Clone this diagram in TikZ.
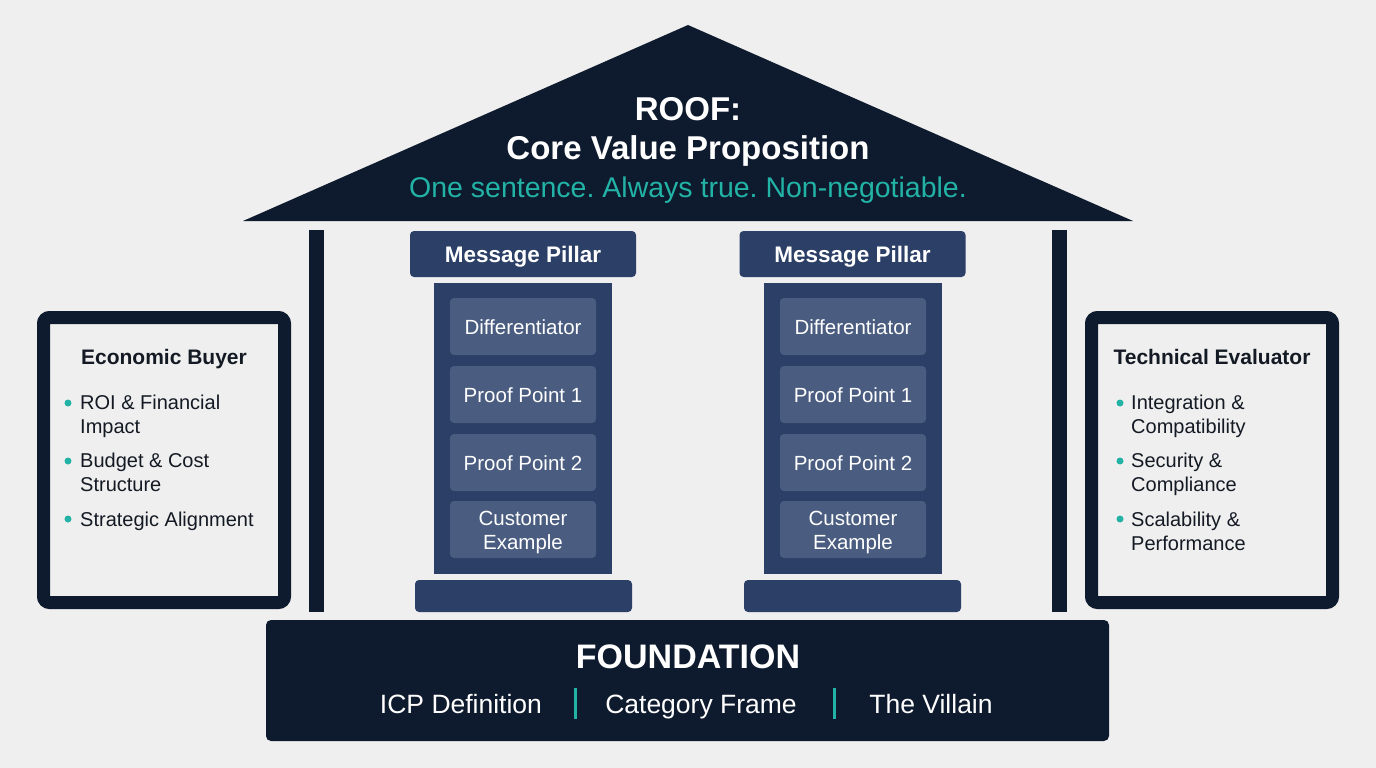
\documentclass[tikz,border=0pt]{standalone}
\usepackage{fontspec}
\setmainfont{Liberation Sans}
\frenchspacing
\definecolor{bg}{HTML}{EFEFEF}
\definecolor{navy}{HTML}{0E1A2D}
\definecolor{pillarblue}{HTML}{2B3F67}
\definecolor{innerblue}{HTML}{4A5D80}
\definecolor{teal}{HTML}{22B3A6}
\definecolor{ink}{HTML}{141A24}
\begin{document}
\begin{tikzpicture}[x=1pt,y=-1pt,
  txt/.style={inner sep=0pt,anchor=base},
  header/.style={fill=pillarblue,rounded corners=4pt,minimum width=226pt,minimum height=46pt,inner sep=0pt},
  htext/.style={txt,text=white,font=\bfseries\fontsize{22.5}{26}\selectfont},
  column/.style={fill=pillarblue,minimum width=178pt,minimum height=291pt,inner sep=0pt},
  block/.style={fill=innerblue,rounded corners=4pt,minimum width=146pt,minimum height=57pt,inner sep=0pt},
  btext/.style={txt,text=white,font=\fontsize{20.5}{24}\selectfont},
  base/.style={fill=pillarblue,rounded corners=4pt,minimum width=217pt,minimum height=32pt},
  post/.style={fill=navy,minimum width=15pt,minimum height=382pt,inner sep=0pt},
  sidebox/.style={draw=navy,line width=13pt,rounded corners=6pt,fill=bg},
  dot/.style={circle,fill=teal,minimum size=7pt,inner sep=0pt},
  bullet/.style={txt,anchor=base west,text=ink,font=\fontsize{20}{24}\selectfont},
  ftext/.style={txt,text=white,font=\fontsize{26.5}{30}\selectfont},
  sep/.style={draw=teal,line width=3pt}]
\useasboundingbox (0,0) rectangle (1376,768);
\fill[bg] (0,0) rectangle (1376,768);

% roof
\coordinate (apex) at (688,25);
\coordinate (rl) at (243,221);
\coordinate (rr) at (1133,221);
\fill[navy] (apex) -- (rr) -- (rl) -- cycle;
\node[txt,text=white,font=\bfseries\fontsize{33}{38}\selectfont] (roof1) at (688,120) {ROOF:};
\node[txt,text=white,font=\bfseries\fontsize{33}{38}\selectfont] (roof2) at (688,159) {Core Value Proposition};
\node[txt,text=teal,font=\fontsize{28.5}{32}\selectfont] (roof3) at (688,197) {One sentence. Always true. Non-negotiable.};

% posts
\node[post] (postL) at (316.5,421) {};
\node[post] (postR) at (1059,421) {};

% pillar 1
\node[header] (h1) at (523,254) {};
\node[htext] (h1t) at (523,262) {Message Pillar};
\node[column] (c1) at (523,428.5) {};
\node[block] (d1) at (523,326.5) {};
\node[btext] at (523,334) {Differentiator};
\node[block] (p11) at (523,394.5) {};
\node[btext] at (523,402) {Proof Point 1};
\node[block] (p12) at (523,462.5) {};
\node[btext] at (523,470) {Proof Point 2};
\node[block] (ce1) at (523,529.5) {};
\node[btext] at (523,525) {Customer};
\node[btext] at (523,549.5) {Example};
\node[base] (b1) at (523.5,596) {};

% pillar 2
\node[header] (h2) at (852.5,254) {};
\node[htext] (h2t) at (852.5,262) {Message Pillar};
\node[column] (c2) at (852.5,428.5) {};
\node[block] (d2) at (853,326.5) {};
\node[btext] at (853,334) {Differentiator};
\node[block] (p21) at (853,394.5) {};
\node[btext] at (853,402) {Proof Point 1};
\node[block] (p22) at (853,462.5) {};
\node[btext] at (853,470) {Proof Point 2};
\node[block] (ce2) at (853,529.5) {};
\node[btext] at (853,525) {Customer};
\node[btext] at (853,549.5) {Example};
\node[base] (b2) at (852.5,596) {};

% left box
\draw[sidebox] (43.5,317.5) rectangle (284.5,602.5);
\node[txt,text=ink,font=\bfseries\fontsize{21}{24}\selectfont] (ebt) at (164,364.5) {Economic Buyer};
\node[dot] (ed1) at (68,403) {};
\node[bullet] (eb1a) at (80,409.5) {ROI \& Financial};
\node[bullet] (eb1b) at (80,433.5) {Impact};
\node[dot] (ed2) at (68,461) {};
\node[bullet] (eb2a) at (80,467.5) {Budget \& Cost};
\node[bullet] (eb2b) at (80,491.5) {Structure};
\node[dot] (ed3) at (68,519) {};
\node[bullet] (eb3) at (80,526.5) {Strategic Alignment};

% right box
\draw[sidebox] (1091.5,317.5) rectangle (1332.5,602.5);
\node[txt,text=ink,font=\bfseries\fontsize{21}{24}\selectfont] (tet) at (1212,364.5) {Technical Evaluator};
\node[dot] (td1) at (1120,403) {};
\node[bullet] (te1a) at (1131,409.5) {Integration \&};
\node[bullet] (te1b) at (1131,433.5) {Compatibility};
\node[dot] (td2) at (1120,461) {};
\node[bullet] (te2a) at (1131,467.5) {Security \&};
\node[bullet] (te2b) at (1131,491.5) {Compliance};
\node[dot] (td3) at (1120,519) {};
\node[bullet] (te3a) at (1131,526.5) {Scalability \&};
\node[bullet] (te3b) at (1131,550.5) {Performance};

% foundation
\node[fill=navy,rounded corners=5pt,minimum width=843pt,minimum height=121pt,inner sep=0pt] (found) at (687.5,680.5) {};
\node[txt,text=white,font=\bfseries\fontsize{34}{40}\selectfont] (ft) at (688,668) {FOUNDATION};
\node[ftext] (f1) at (461,713.5) {ICP Definition};
\node[ftext] (f2) at (701,713.5) {Category Frame};
\node[ftext] (f3) at (931,713.5) {The Villain};
\coordinate (s1t) at (575,688); \coordinate (s1b) at (575,719);
\coordinate (s2t) at (834,688); \coordinate (s2b) at (834,719);
\draw[sep] (s1t) -- (s1b);
\draw[sep] (s2t) -- (s2b);
\end{tikzpicture}
\end{document}
